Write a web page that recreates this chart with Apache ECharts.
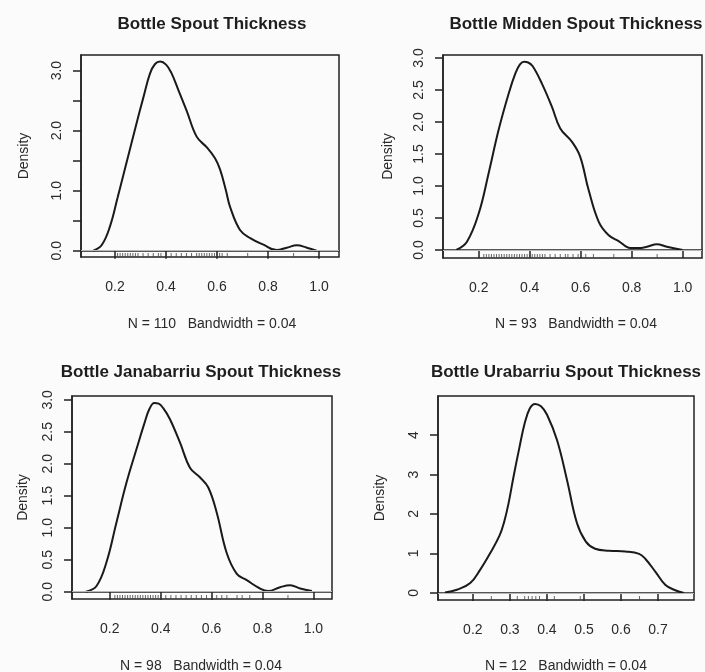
<!DOCTYPE html>
<html>
<head>
<meta charset="utf-8">
<script src="https://cdn.jsdelivr.net/npm/echarts@6/dist/echarts.min.js"></script>
<style>html,body{margin:0;padding:0;background:#fbfbfb;}#c{width:705px;height:672px;}</style>
</head>
<body>
<div id="c"></div>
<script>
// ---- data ----
const titles = ["Bottle Spout Thickness", "Bottle Midden Spout Thickness", "Bottle Janabarriu Spout Thickness", "Bottle Urabarriu Spout Thickness"];
const subtitles = ["N = 110   Bandwidth = 0.04", "N = 93   Bandwidth = 0.04", "N = 98   Bandwidth = 0.04", "N = 12   Bandwidth = 0.04"];

const xAll = [0.115,0.148,0.18,0.21,0.235,0.256,0.28,0.311,0.337,0.357,0.377,0.40,0.42,0.448,0.481,0.52,0.56,0.592,0.612,0.635,0.651,0.69,0.73,0.782,0.834,0.873,0.913,0.952,0.99];
const yAll = [0,0.095,0.40,0.88,1.30,1.65,2.05,2.55,2.95,3.11,3.15,3.10,2.97,2.68,2.33,1.90,1.72,1.54,1.35,1.00,0.73,0.345,0.21,0.10,0.01,0.05,0.09,0.05,0.0];

const xMidden = [0.112,0.154,0.2,0.239,0.278,0.318,0.345,0.362,0.378,0.394,0.412,0.448,0.487,0.52,0.566,0.598,0.631,0.671,0.71,0.749,0.795,0.827,0.86,0.899,0.938,1.0];
const yMidden = [0,0.13,0.57,1.2,1.875,2.45,2.77,2.90,2.94,2.93,2.87,2.60,2.24,1.90,1.69,1.46,0.94,0.44,0.23,0.14,0.03,0.03,0.05,0.09,0.05,0];

const xJana = [0.106,0.148,0.187,0.226,0.266,0.305,0.335,0.356,0.375,0.392,0.41,0.436,0.476,0.515,0.554,0.587,0.62,0.659,0.699,0.738,0.79,0.823,0.869,0.909,0.948,0.994];
const yJana = [0,0.09,0.46,1.08,1.71,2.23,2.62,2.86,2.95,2.94,2.87,2.70,2.33,1.94,1.79,1.63,1.24,0.61,0.28,0.18,0.05,0.01,0.07,0.10,0.05,0.01];

const xUra = [0.125,0.157,0.193,0.22,0.247,0.272,0.284,0.296,0.31,0.325,0.34,0.354,0.368,0.384,0.4,0.427,0.454,0.481,0.505,0.53,0.568,0.612,0.649,0.666,0.694,0.72,0.748,0.77];
const yUra = [0.01,0.08,0.25,0.59,1.01,1.45,1.78,2.25,2.95,3.65,4.30,4.68,4.79,4.73,4.52,3.88,2.87,1.77,1.30,1.12,1.07,1.05,0.99,0.86,0.52,0.20,0.06,0];

const rugAll = [0.21,0.22,0.23,0.24,0.25,0.26,0.27,0.28,0.29,0.31,0.33,0.35,0.37,0.38,0.40,0.42,0.44,0.46,0.48,0.50,0.52,0.53,0.54,0.55,0.56,0.57,0.58,0.59,0.60,0.61,0.62,0.64,0.72,0.90];
const rugMidden = [0.22,0.23,0.24,0.25,0.26,0.27,0.28,0.29,0.30,0.31,0.32,0.33,0.34,0.35,0.36,0.37,0.38,0.39,0.40,0.41,0.42,0.43,0.44,0.45,0.46,0.48,0.50,0.52,0.54,0.55,0.57,0.59,0.62,0.65,0.73,0.90];
const rugJana = [0.22,0.23,0.24,0.25,0.26,0.27,0.28,0.29,0.30,0.31,0.32,0.33,0.34,0.35,0.36,0.37,0.38,0.39,0.40,0.42,0.44,0.46,0.48,0.50,0.52,0.54,0.56,0.58,0.60,0.62,0.64,0.66,0.70,0.72,0.75,0.90];
const rugUra = [0.25,0.32,0.34,0.35,0.36,0.37,0.38,0.40,0.42,0.49,0.60,0.65];

const xTicks1 = [0.2,0.4,0.6,0.8,1.0];
const xTicks4 = [0.2,0.3,0.4,0.5,0.6,0.7];
const yTicksHalf = [0,0.5,1,1.5,2,2.5,3];
const yLabels1 = [0,1,2,3];
const yTicks4 = [0,1,2,3,4];

// ---- layout ----
const FONT = "'Liberation Sans', Arial, sans-serif";
const TXT = '#2a2a2a';
const panels = [
  {x: xAll, y: yAll, rug: rugAll, xt: xTicks1, yt: yTicksHalf, yl: yLabels1, dec: 1,
   grid: {left: 81, top: 55, width: 258, height: 202}, xr: [0.0667, 1.078], yr: [-0.105, 3.26],
   tc: 207, ty: 11, sy: 312, nameGap: 50},
  {x: xMidden, y: yMidden, rug: rugMidden, xt: xTicks1, yt: yTicksHalf, yl: yTicksHalf, dec: 1,
   grid: {left: 443, top: 55, width: 259, height: 203}, xr: [0.06, 1.076], yr: [-0.125, 3.047],
   tc: 571, ty: 11, sy: 312, nameGap: 48},
  {x: xJana, y: yJana, rug: rugJana, xt: xTicks1, yt: yTicksHalf, yl: yTicksHalf, dec: 1,
   grid: {left: 72, top: 396, width: 260, height: 203}, xr: [0.0516, 1.073], yr: [-0.114, 3.06],
   tc: 196, ty: 359, sy: 654, nameGap: 42},
  {x: xUra, y: yUra, rug: rugUra, xt: xTicks4, yt: yTicks4, yl: yTicks4, dec: 0,
   grid: {left: 438, top: 396, width: 256, height: 204}, xr: [0.106, 0.797], yr: [-0.18, 4.99],
   tc: 561, ty: 359, sy: 654, nameGap: 51}
];

const option = {
  backgroundColor: '#fbfbfb',
  animation: false,
  title: [], grid: [], xAxis: [], yAxis: [], series: []
};

panels.forEach((p, i) => {
  option.title.push({
    text: titles[i], left: p.tc, top: p.ty, textAlign: 'center',
    textStyle: {fontFamily: FONT, fontSize: 17, fontWeight: 'bold', color: '#1e1e1e'}
  });
  option.title.push({
    text: subtitles[i], left: p.tc, top: p.sy, textAlign: 'center',
    textStyle: {fontFamily: FONT, fontSize: 14, fontWeight: 'normal', color: TXT}
  });
  option.grid.push(Object.assign({show: true, borderColor: '#222', borderWidth: 1.5, backgroundColor: 'transparent'}, p.grid));
  option.xAxis.push({
    type: 'value', gridIndex: i, min: p.xr[0], max: p.xr[1],
    axisLine: {show: true, lineStyle: {color: '#222', width: 1.5}},
    axisTick: {show: true, length: 8, inside: false, customValues: p.xt, lineStyle: {color: '#222', width: 1.5}},
    axisLabel: {show: true, customValues: p.xt, margin: 23, fontFamily: FONT, fontSize: 14, color: TXT,
      formatter: v => v.toFixed(1)},
    splitLine: {show: false}
  });
  option.yAxis.push({
    type: 'value', gridIndex: i, min: p.yr[0], max: p.yr[1],
    name: 'Density', nameLocation: 'middle', nameGap: p.nameGap, nameRotate: 90,
    nameTextStyle: {fontFamily: FONT, fontSize: 14, color: TXT},
    axisLine: {show: true, lineStyle: {color: '#222', width: 1.5}},
    axisTick: {show: true, length: 8, inside: false, customValues: p.yt, lineStyle: {color: '#222', width: 1.5}},
    axisLabel: {show: true, customValues: p.yl, rotate: 90, margin: 17, fontFamily: FONT, fontSize: 14, color: TXT,
      formatter: v => v.toFixed(p.dec)},
    splitLine: {show: false}
  });
  option.series.push({
    type: 'line', xAxisIndex: i, yAxisIndex: i,
    data: p.x.map((xv, k) => [xv, p.y[k]]),
    smooth: 0.4, showSymbol: false, symbol: 'none',
    lineStyle: {color: '#1a1a1a', width: 2},
    markLine: {
      silent: true, symbol: 'none', label: {show: false},
      lineStyle: {color: '#b8b8b8', type: 'solid', width: 1},
      data: [{yAxis: 0}]
    }
  });
  option.series.push({
    type: 'scatter', xAxisIndex: i, yAxisIndex: i,
    data: p.rug.map(v => [v, p.yr[0]]),
    symbol: 'rect', symbolSize: [1, 4], symbolOffset: [0, -2],
    itemStyle: {color: '#444', opacity: 0.8}, silent: true, clip: false
  });
});

const chart = echarts.init(document.getElementById('c'), null, {renderer: 'canvas'});
chart.setOption(option);
</script>
</body>
</html>
